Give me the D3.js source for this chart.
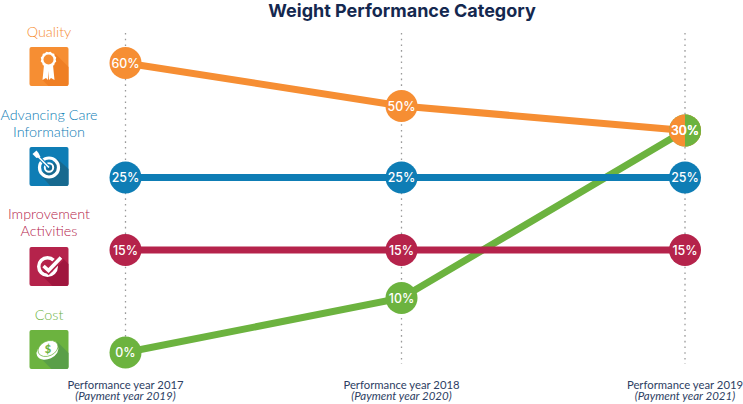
<!DOCTYPE html>
<html>
<head>
<meta charset="utf-8">
<script src="https://cdnjs.cloudflare.com/ajax/libs/d3/7.8.5/d3.min.js"></script>
<style>
  html, body { margin: 0; padding: 0; background: #fff; }
  svg { display: block; }
  text { font-family: Lato, "Open Sans", sans-serif; }
  text.inter { font-family: Inter, sans-serif; }
</style>
</head>
<body>
<div id="viz"></div>
<script>
const years = ["2017", "2018", "2019"]
const yearLabels = ["Performance year 2017", "Performance year 2018", "Performance year 2019"]
const paymentLabels = ["(Payment year 2019)", "(Payment year 2020)", "(Payment year 2021)"]

const costValues = [0, 10, 30]
const improvementValues = [15, 15, 15]
const careValues = [25, 25, 25]
const qualityValues = [60, 50, 30]

const width = 743
const height = 404
const navy = "#14284f"

const x = d3.scaleOrdinal().domain(years).range([125.5, 401.5, 685])

// The original's vertical axis is not even, each stop is placed by hand
const y = d3.scaleLinear()
    .domain([0, 10, 15, 25, 30, 50, 60])
    .range([352.5, 298, 250, 177.5, 130.5, 106, 63])

const series = [
    { name: ["Cost"], values: costValues, color: "#6cb33f", dark: "#5a9f48", textY: [320], iconY: 330, icon: "cost" },
    { name: ["Improvement", "Activities"], values: improvementValues, color: "#b5234b", dark: "#a0163e", textY: [219, 236], iconY: 247, icon: "check" },
    { name: ["Advancing Care", "Information"], values: careValues, color: "#0e7db5", dark: "#17698f", textY: [120, 137], iconY: 147, icon: "target" },
    { name: ["Quality"], values: qualityValues, color: "#f68e33", dark: "#ef7f24", textY: [37], iconY: 47, icon: "ribbon" }
]

const svg = d3.select("#viz").append("svg")
    .attr("width", width)
    .attr("height", height)

svg.append("text")
    .attr("class", "inter")
    .attr("x", 402)
    .attr("y", 17)
    .attr("text-anchor", "middle")
    .attr("font-size", 18)
    .attr("font-weight", 700)
    .attr("fill", navy)
    .text("Weight Performance Category")

// Dotted year lines
svg.selectAll(".guide")
    .data(years)
    .enter().append("line")
    .attr("class", "guide")
    .attr("x1", d => x(d))
    .attr("x2", d => x(d))
    .attr("y1", 33)
    .attr("y2", 364)
    .attr("stroke", "#9a9a9a")
    .attr("stroke-width", 1.3)
    .attr("stroke-dasharray", "1.6 4.1")

// Year labels
years.forEach((yr, i) => {
    svg.append("text")
        .attr("x", x(yr))
        .attr("y", 389)
        .attr("text-anchor", "middle")
        .attr("font-size", 11.3)
        .attr("fill", "#2d3e63")
        .text(yearLabels[i])
    svg.append("text")
        .attr("x", x(yr))
        .attr("y", 400)
        .attr("text-anchor", "middle")
        .attr("font-size", 11.5)
        .attr("font-style", "italic")
        .attr("fill", "#2d3e63")
        .text(paymentLabels[i])
})

const line = d3.line()
    .x((d, i) => x(years[i]))
    .y(d => y(d))

// Series lines
svg.selectAll(".series")
    .data(series)
    .enter().append("path")
    .attr("class", "series")
    .attr("d", d => line(d.values))
    .attr("fill", "none")
    .attr("stroke", d => d.color)
    .attr("stroke-width", 7)

// Points
series.forEach(s => {
    svg.selectAll(null)
        .data(s.values)
        .enter().append("circle")
        .attr("cx", (d, i) => x(years[i]))
        .attr("cy", d => y(d))
        .attr("r", 16)
        .attr("fill", s.color)
})

// Quality and Cost share the 2019 point, right half is green
const halfArc = d3.arc()
    .innerRadius(0)
    .outerRadius(16)
    .startAngle(0)
    .endAngle(Math.PI)
svg.append("path")
    .attr("d", halfArc)
    .attr("transform", "translate(" + x("2019") + "," + y(30) + ")")
    .attr("fill", series[0].color)

// Point labels
series.forEach(s => {
    svg.selectAll(null)
        .data(s.values)
        .enter().append("text")
        .attr("class", "inter")
        .attr("x", (d, i) => x(years[i]))
        .attr("y", d => y(d))
        .attr("dy", "0.4em")
        .attr("text-anchor", "middle")
        .attr("font-size", 12.4)
        .attr("font-weight", 500)
        .attr("fill", "#fff")
        .text(d => d + "%")
})

// Category names
series.forEach(s => {
    s.name.forEach((t, i) => {
        svg.append("text")
            .attr("x", 49)
            .attr("y", s.textY[i])
            .attr("text-anchor", "middle")
            .attr("font-size", 14.4)
            .attr("font-weight", 300)
            .attr("fill", s.color)
            .text(t)
    })
})

// Icons, drawn in a 39px box
const drawIcon = {
    ribbon(g, s) {
        const star = d3.range(24).map(i => {
            const a = i / 24 * 2 * Math.PI
            const r = i % 2 ? 8 : 7.2
            return [19 + r * Math.sin(a), 12.5 + r * Math.cos(a)]
        })
        g.append("path").attr("d", "M14.5 18L13 33L16.5 31L18.5 33L19 24L19.5 33L21.5 31L25 33L23.5 18Z").attr("fill", "#fff")
        g.append("path").attr("d", d3.line()(star) + "Z").attr("fill", "#fff")
        g.append("circle").attr("cx", 19).attr("cy", 12.5).attr("r", 5).attr("fill", s.color)
    },
    target(g) {
        g.append("circle").attr("cx", 19.5).attr("cy", 20.5).attr("r", 9.5).attr("fill", "none").attr("stroke", "#fff").attr("stroke-width", 3.2)
        g.append("circle").attr("cx", 19.5).attr("cy", 20.5).attr("r", 4.2).attr("fill", "none").attr("stroke", "#fff").attr("stroke-width", 2)
        g.append("path").attr("d", "M19.5 20.5L7 8").attr("stroke", "#0e7db5").attr("stroke-width", 3.6)
        g.append("path").attr("d", "M19.5 20.5L7 8").attr("stroke", "#fff").attr("stroke-width", 1.6)
        g.append("path").attr("d", "M3 7L7 3.5L9 6L11 10L7 11Z").attr("fill", "#fff")
    },
    check(g, s) {
        g.append("path").attr("d", d3.arc()({ innerRadius: 7, outerRadius: 10.5, startAngle: 0, endAngle: 2 * Math.PI }))
            .attr("transform", "translate(18,19.5)").attr("fill", "#fff")
        g.append("path").attr("d", "M14 19L19 23.5L31.5 10.5").attr("fill", "none").attr("stroke", s.color).attr("stroke-width", 7)
        g.append("path").attr("d", "M14 19L19 23.5L31.5 10.5").attr("fill", "none").attr("stroke", "#fff").attr("stroke-width", 3.6)
    },
    cost(g, s) {
        g.append("ellipse").attr("cx", 18).attr("cy", 21).attr("rx", 11.5).attr("ry", 8).attr("transform", "rotate(-25 18 21)").attr("fill", "#fff")
        g.append("ellipse").attr("cx", 18.5).attr("cy", 18.5).attr("rx", 10.5).attr("ry", 7.4).attr("transform", "rotate(-25 18.5 18.5)").attr("fill", "#fff").attr("stroke", s.color).attr("stroke-width", 0.7)
        g.append("text").attr("x", 18.5).attr("y", 22.5).attr("text-anchor", "middle").attr("font-size", 11).attr("font-weight", 900).attr("fill", s.color).text("$")
    }
}

const shadows = {
    ribbon: "M13 33L26 7L39 20V37a2 2 0 0 1 -2 2H19Z",
    target: "M11 28L28 12L39 22V37a2 2 0 0 1 -2 2H21Z",
    check: "M11 27L31 9L39 17V37a2 2 0 0 1 -2 2H23Z",
    cost: "M10 27L28 12L39 23V37a2 2 0 0 1 -2 2H22Z"
}

series.forEach(s => {
    const g = svg.append("g").attr("transform", "translate(29.5," + s.iconY + ")")
    g.append("rect").attr("width", 39).attr("height", 39).attr("rx", 2).attr("fill", s.color)
    g.append("path").attr("d", shadows[s.icon]).attr("fill", s.dark)
    drawIcon[s.icon](g, s)
})
</script>
</body>
</html>
